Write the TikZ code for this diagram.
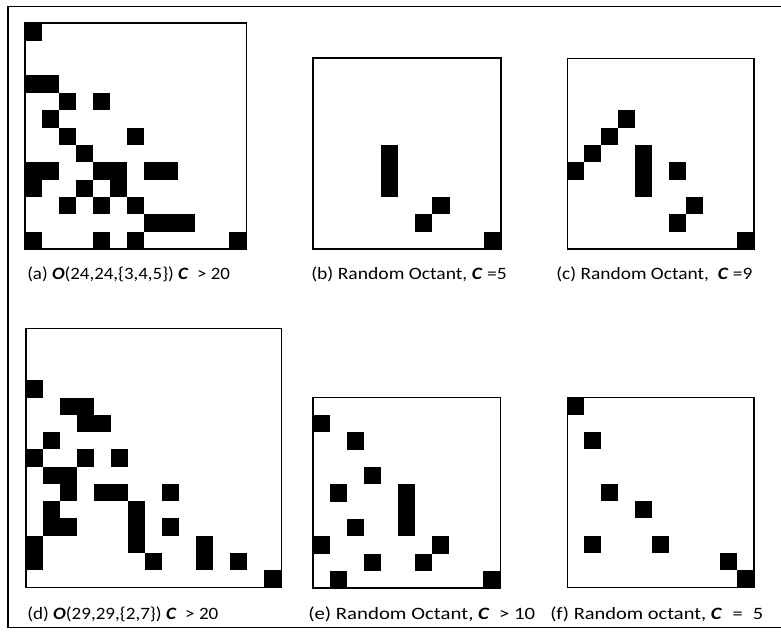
\documentclass[tikz,border=0pt]{standalone}
\usepackage{fontspec}
\setmainfont{Carlito}
\usepackage{graphicx}
\tikzset{
  px/.style={x=0.75pt,y=-0.75pt},
  panelframe/.style={draw=black,line width=1.3pt},
  cellfill/.style={fill=black},
  captiontext/.style={anchor=west,inner sep=0pt,font=\fontsize{13pt}{15pt}\selectfont},
  outerframe/.style={draw=black,line width=1.3pt}
}
\newcommand{\bi}[1]{\textbf{\textit{#1}}}
\newcommand{\capstretch}[2]{\scalebox{#1}[1]{#2}}
\begin{document}
\begin{tikzpicture}[px]
\useasboundingbox (0,0) rectangle (781,632);
\fill[white] (0,0) rectangle (781,632);
% outer frame (right side lies beyond the picture)
\draw[outerframe] (781,6.5) -- (8.2,6.5) -- (8.2,627.5) -- (781,627.5);

% panel (a): 13 x 13
\begin{scope}[shift={(25.3,23.3)},x=12.76pt,y=-13.03pt]
  \foreach \r/\c/\w/\h in {0/0/1/1,3/0/2/1,4/2/1/1,4/4/1/1,5/1/1/1,6/2/1/1,6/6/1/1,7/3/1/1,
    8/0/2/1,8/4/2/1,8/7/2/1,9/0/1/1,9/3/1/1,9/5/1/1,10/2/1/1,10/4/1/1,10/6/1/1,11/7/3/1,
    12/0/1/1,12/4/1/1,12/6/1/1,12/12/1/1}
    \fill[cellfill] (\c,\r) rectangle ++(\w,\h);
  \draw[panelframe] (0,0) rectangle (13,13);
\end{scope}

% panel (b): 11 x 11
\begin{scope}[shift={(313,58.2)},x=12.80pt,y=-13.01pt]
  \foreach \r/\c/\w/\h in {5/4/1/3,8/7/1/1,9/6/1/1,10/10/1/1}
    \fill[cellfill] (\c,\r) rectangle ++(\w,\h);
  \draw[panelframe] (0,0) rectangle (11,11);
\end{scope}

% panel (c): 11 x 11
\begin{scope}[shift={(567.5,58.5)},x=12.72pt,y=-12.99pt]
  \foreach \r/\c/\w/\h in {3/3/1/1,4/2/1/1,5/1/1/1,5/4/1/3,6/0/1/1,6/6/1/1,8/7/1/1,9/6/1/1,10/10/1/1}
    \fill[cellfill] (\c,\r) rectangle ++(\w,\h);
  \draw[panelframe] (0,0) rectangle (11,11);
\end{scope}

% panel (d): 15 x 15
\begin{scope}[shift={(25.8,328.5)},x=12.785pt,y=-12.95pt]
  \foreach \r/\c/\w/\h in {3/0/1/1,4/2/2/1,5/3/2/1,6/1/1/1,7/0/1/1,7/3/1/1,7/5/1/1,8/1/2/1,
    9/2/1/1,9/4/2/1,9/8/1/1,10/1/1/1,10/6/1/3,11/1/2/1,11/8/1/1,12/0/1/2,12/10/1/2,
    13/7/1/1,13/12/1/1,14/14/1/1}
    \fill[cellfill] (\c,\r) rectangle ++(\w,\h);
  \draw[panelframe] (0,0) rectangle (15,15);
\end{scope}

% panel (e): 11 x 11
\begin{scope}[shift={(313,397.5)},x=12.78pt,y=-13.01pt]
  \foreach \r/\c/\w/\h in {1/0/1/1,2/2/1/1,4/3/1/1,5/1/1/1,5/5/1/3,7/2/1/1,8/0/1/1,8/7/1/1,
    9/3/1/1,9/6/1/1,10/1/1/1,10/10/1/1}
    \fill[cellfill] (\c,\r) rectangle ++(\w,\h);
  \draw[panelframe] (0,0) rectangle (11,11);
\end{scope}

% panel (f): 11 x 11
\begin{scope}[shift={(567.5,397.5)},x=12.72pt,y=-12.95pt]
  \foreach \r/\c/\w/\h in {0/0/1/1,2/1/1/1,5/2/1/1,6/4/1/1,8/1/1/1,8/5/1/1,9/9/1/1,10/10/1/1}
    \fill[cellfill] (\c,\r) rectangle ++(\w,\h);
  \draw[panelframe] (0,0) rectangle (11,11);
\end{scope}

% captions
\node[captiontext] (capa) at (27,274) {\capstretch{1.09}{(a) \bi{O}(24,24,\{3,4,5\}) \bi{C}\ \ >\ 20}};
\node[captiontext] (capb) at (311,274) {\capstretch{1.13}{(b) Random Octant, \bi{C} =5}};
\node[captiontext] (capc) at (556,274) {\capstretch{1.12}{(c) Random Octant,\ \ \bi{C} =9}};
\node[captiontext] (capd) at (27,614) {\capstretch{1.10}{(d) \bi{O}(29,29,\{2,7\}) \bi{C}\ \ >\ 20}};
\node[captiontext] (cape) at (308,614) {\capstretch{1.20}{(e) Random Octant, \bi{C}\ \ >\ 10}};
\node[captiontext] (capf) at (550,614) {\capstretch{1.18}{(f) Random octant, \bi{C}\hspace{0.5em}=\hspace{0.5em}5}};
\end{tikzpicture}
\end{document}
